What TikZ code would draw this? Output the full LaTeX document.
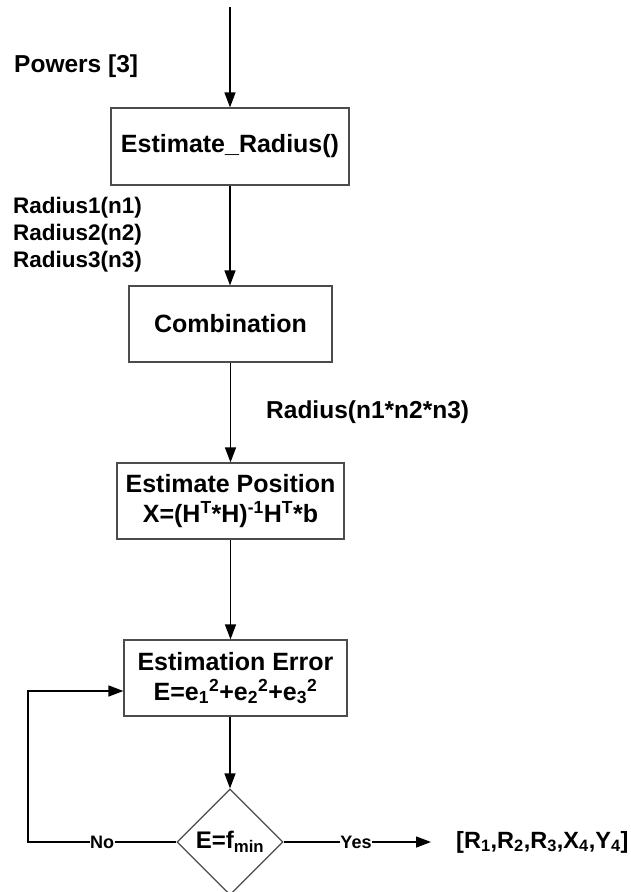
\documentclass[tikz,border=0pt]{standalone}
\usepackage{fontspec}
\setmainfont{Liberation Sans}
\usetikzlibrary{shapes.geometric,arrows.meta}
\begin{document}
\begin{tikzpicture}[x=1pt,y=-1pt,
  box/.style={draw=black!70, line width=1.2pt, align=center, inner sep=0pt,
    font=\fontsize{25}{30}\selectfont\bfseries},
  lbl/.style={font=\fontsize{24.5}{28}\selectfont\bfseries, inner sep=0pt, align=left},
  rlbl/.style={font=\fontsize{22.5}{26}\selectfont\bfseries, inner sep=0pt, anchor=west},
  arr/.style={line width=1.4pt, -{Triangle[length=15pt,width=11pt]}},
  small/.style={font=\fontsize{18}{20}\selectfont\bfseries, fill=white, inner sep=0.5pt}]
\useasboundingbox (0,0) rectangle (631,892);
\fill[white] (0,0) rectangle (631,892);

\node[box, minimum width=238pt, minimum height=77pt] (er) at (230,146.5) {Estimate\_Radius()};
\node[box, minimum width=203pt, minimum height=76pt] (comb) at (230.5,324) {Combination};
\node[box, minimum width=227pt, minimum height=76pt] (ep) at (230.5,501)
  {Estimate Position\\X=(H\textsuperscript{T}*H)\textsuperscript{-1}H\textsuperscript{T}*b};
\node[box, minimum width=223pt, minimum height=76pt] (ee) at (235.5,678)
  {Estimation Error\\E=e\textsubscript{1}\textsuperscript{2}+e\textsubscript{2}\textsuperscript{2}+e\textsubscript{3}\textsuperscript{2}};
\node[draw=black!70, diamond, line width=1.2pt, minimum width=106pt, minimum height=106pt,
  inner sep=0pt, font=\fontsize{24}{28}\selectfont\bfseries] (dec) at (230,842) {E=f\textsubscript{min}};

\node[lbl, anchor=west] (pw) at (14,66) {Powers [3]};
\node[rlbl] (r1) at (13,208) {Radius1(n1)};
\node[rlbl] (r2) at (13,235) {Radius2(n2)};
\node[rlbl] (r3) at (13,262) {Radius3(n3)};
\node[lbl, anchor=west] (rc) at (266,412) {Radius(n1*n2*n3)};
\node[lbl, anchor=west, font=\fontsize{23.5}{28}\selectfont\bfseries] (out) at (456,842)
  {[R\textsubscript{1},R\textsubscript{2},R\textsubscript{3},X\textsubscript{4},Y\textsubscript{4}]};

\coordinate (top) at (230,7);
\coordinate (loopc) at (28,842);

\draw[arr] (top) -- (er.north);
\draw[arr] (er.south) -- (er.south |- comb.north);
\draw[arr] (comb.south) -- (ep.north);
\draw[arr] (ep.south) -- (ep.south |- ee.north);
\draw[arr] (dec.north |- ee.south) -- (dec.north);
\draw[arr] (dec.west) -- node[small, pos=0.5] {No} (loopc) |- ([yshift=-13pt]ee.west);
\draw[arr, shorten >=25pt] (dec.east) -- node[small, pos=0.42] {Yes} (out.west);
\end{tikzpicture}
\end{document}
